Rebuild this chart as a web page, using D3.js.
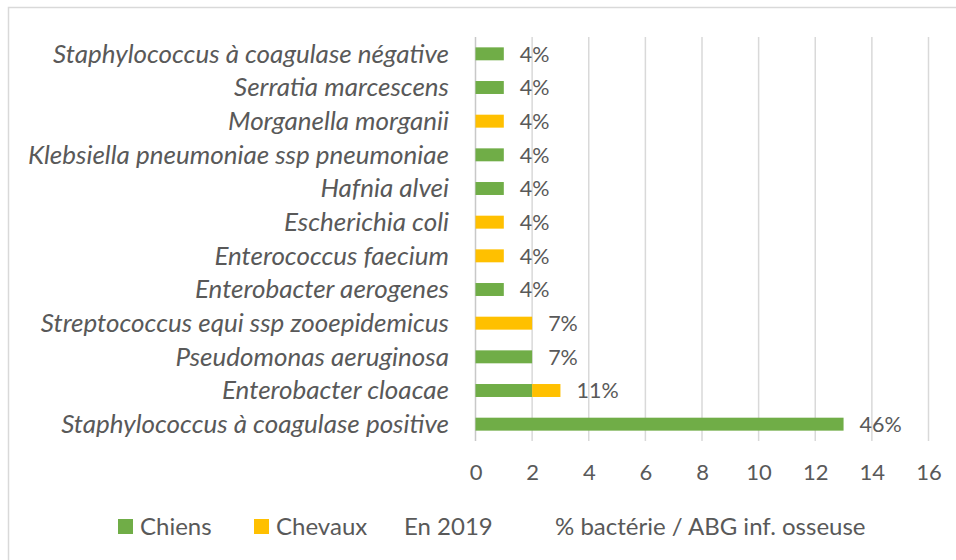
<!DOCTYPE html>
<html><head><meta charset="utf-8">
<script src="https://cdn.jsdelivr.net/npm/d3@7"></script>
<style>
html,body{margin:0;padding:0;background:#fff;}
svg text{font-family:Lato,"Open Sans",sans-serif;fill:#595959;}
</style></head>
<body><svg id="c" width="956" height="560"></svg>
<script>
// categories listed top to bottom as displayed
const categories = [
  "Staphylococcus à coagulase négative",
  "Serratia marcescens",
  "Morganella morganii",
  "Klebsiella pneumoniae ssp pneumoniae",
  "Hafnia alvei",
  "Escherichia coli",
  "Enterococcus faecium",
  "Enterobacter aerogenes",
  "Streptococcus equi ssp zooepidemicus",
  "Pseudomonas aeruginosa",
  "Enterobacter cloacae",
  "Staphylococcus à coagulase positive"
];
const chiens  = [1,1,0,1,1,0,0,1,0,2,2,13];
const chevaux = [0,0,1,0,0,1,1,0,2,0,1,0];
const pctLabels = ["4%","4%","4%","4%","4%","4%","4%","4%","7%","7%","11%","46%"];
const xTicks = [0,2,4,6,8,10,12,14,16];
const seriesNames = ["Chiens","Chevaux"];
const seriesColors = ["#70AD47","#FFC000"];
const legendExtra = ["En 2019","% bactérie / ABG inf. osseuse"];

const svg = d3.select("#c");
// chart border
svg.append("rect").attr("x",8.5).attr("y",7.5).attr("width",1000).attr("height",600)
  .attr("fill","none").attr("stroke","#d9d9d9").attr("stroke-width",1.5);

const x = d3.scaleLinear().domain([0,16]).range([475.5,928.5]);
const y = d3.scaleBand().domain(categories).range([37,441]).paddingInner(0.615).paddingOuter(0.3075);

// gridlines
svg.append("g").selectAll("line").data(xTicks).join("line")
  .attr("x1",d=>x(d)).attr("x2",d=>x(d)).attr("y1",37).attr("y2",441)
  .attr("stroke",d=>d===0?"#c8c8c8":"#d9d9d9").attr("stroke-width",1.5);

// x axis labels
const xAxis = d3.axisBottom(x).tickValues(xTicks).tickSize(0).tickPadding(0);
const gx = svg.append("g").attr("transform","translate(0,462)").call(xAxis);
gx.select(".domain").remove();
gx.selectAll("text").attr("font-size",22).attr("fill","#595959").attr("dy","0.82em")
  .style("font-family","Lato,sans-serif");

// category labels
const yAxis = d3.axisLeft(y).tickSize(0).tickPadding(0);
const gy = svg.append("g").attr("transform","translate(449,0)").call(yAxis);
gy.select(".domain").remove();
gy.selectAll("text").attr("font-size",26).attr("font-style","italic").attr("fill","#595959")
  .attr("dy","0.34em").style("font-family","Lato,sans-serif");

// stacked bars
const rows = categories.map((c,i)=>({cat:c, Chiens:chiens[i], Chevaux:chevaux[i]}));
const stack = d3.stack().keys(seriesNames)(rows);
svg.append("g").selectAll("g").data(stack).join("g")
  .attr("fill",(d,i)=>seriesColors[i])
  .selectAll("rect").data(d=>d).join("rect")
  .attr("x",d=>x(d[0])).attr("width",d=>x(d[1])-x(d[0]))
  .attr("y",d=>y(d.data.cat)).attr("height",y.bandwidth());

// data labels
svg.append("g").selectAll("text").data(rows).join("text")
  .attr("x",d=>x(d.Chiens+d.Chevaux)+16)
  .attr("y",d=>y(d.cat)+y.bandwidth()/2)
  .attr("dy","0.36em").attr("font-size",21.5)
  .text((d,i)=>pctLabels[i]);

// legend
const lg = svg.append("g");
const legendX = [118,254];
seriesNames.forEach((n,i)=>{
  lg.append("rect").attr("x",legendX[i]).attr("y",519).attr("width",15).attr("height",15).attr("fill",seriesColors[i]);
  lg.append("text").attr("x",legendX[i]+22).attr("y",535).attr("font-size",24).text(n);
});
const extraX = [404,555];
legendExtra.forEach((t,i)=>{
  lg.append("text").attr("x",extraX[i]).attr("y",535).attr("font-size",24).text(t);
});
</script></body></html>
